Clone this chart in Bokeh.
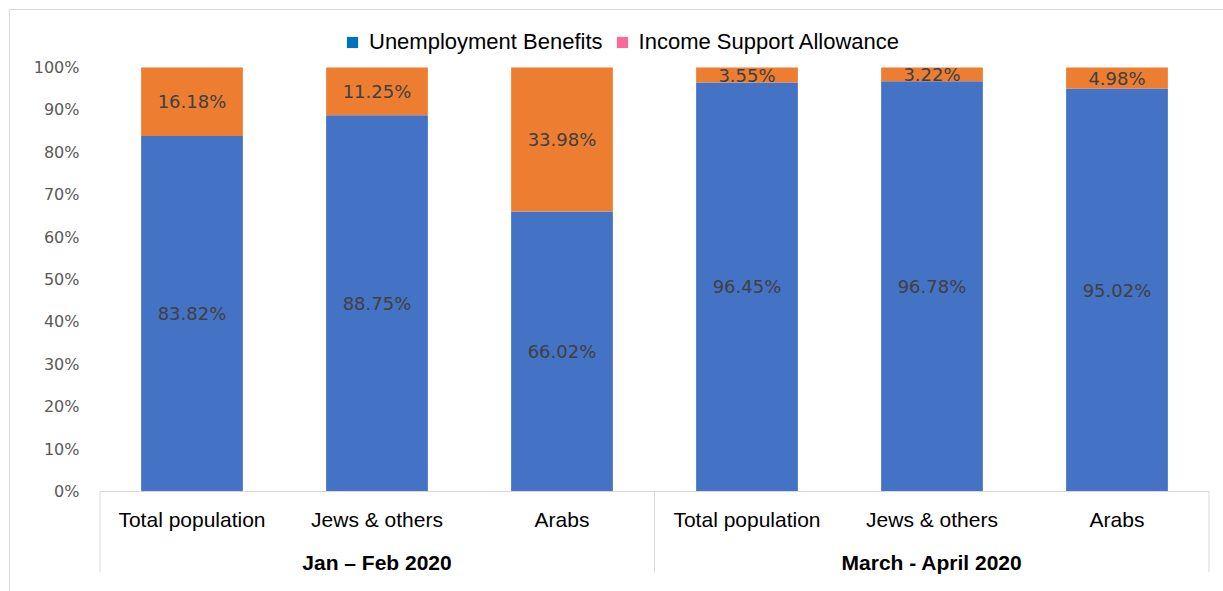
from bokeh.plotting import figure
from bokeh.models import (FactorRange, ColumnDataSource, LabelSet, Legend, LegendItem,
                          FixedTicker, NumeralTickFormatter)
from bokeh.core.properties import value
from bokeh.embed import file_html
from bokeh.resources import INLINE

periods = ["Jan \u2013 Feb 2020", "March - April 2020"]
groups = ["Total population", "Jews & others", "Arabs"]
unemployment = [83.82, 88.75, 66.02, 96.45, 96.78, 95.02]
income_support = [16.18, 11.25, 33.98, 3.55, 3.22, 4.98]
y_ticks = [0, 10, 20, 30, 40, 50, 60, 70, 80, 90, 100]

factors = [(per, g) for per in periods for g in groups]
ub = [v / 100 for v in unemployment]
isa = [v / 100 for v in income_support]

src = ColumnDataSource(dict(x=factors, ub=ub, isa=isa))

# frame: page x 99..1209, y 28..585 (0% at 491, 100% at 67); the category
# axis is drawn inside the frame, below the 0% line
Y0, Y1 = -0.222, 1.092
BOX_BOTTOM = -0.191
p = figure(x_range=FactorRange(*factors, factor_padding=0, group_padding=0, range_padding=0),
           y_range=(Y0, Y1), width=1213, height=581, output_backend="svg",
           toolbar_location=None, min_border_left=89, min_border_right=14,
           min_border_top=18, min_border_bottom=6)
p.margin = (10, 0, 0, 10)
p.styles = {"outline": "1px solid #D9D9D9"}

p.vbar_stack(["ub", "isa"], x="x", width=0.55, source=src,
             color=["#4472C4", "#ED7D31"], line_color=None)

# sides of the category-axis box (at the period boundaries)
n_per = len(groups)
edges = [0, len(factors)]
mids = [n_per * k for k in range(1, len(periods))]
p.segment(x0=edges, x1=edges, y0=[0] * len(edges), y1=[BOX_BOTTOM] * len(edges),
          line_color="#D9D9D9", line_width=2)
p.segment(x0=mids, x1=mids, y0=[0] * len(mids), y1=[BOX_BOTTOM] * len(mids),
          line_color="#D9D9D9", line_width=1)

# data labels
lab_x = factors + factors
lab_y = [u / 2 for u in ub] + [u + i / 2 for u, i in zip(ub, isa)]
lab_t = ["%.2f%%" % v for v in unemployment] + ["%.2f%%" % v for v in income_support]
lsrc = ColumnDataSource(dict(x=lab_x, y=lab_y, t=lab_t))
p.add_layout(LabelSet(x="x", y="y", text="t", source=lsrc, text_align="center",
                      text_baseline="middle", text_font=value("DejaVu Sans"),
                      text_font_size="18px", text_color="#404040"))

# legend proxies (zero-height bars; colours as in the reference legend)
r1 = p.vbar(x="x", top=0, width=0.55, source=src, fill_color="#0070C0", line_color=None)
r2 = p.vbar(x="x", top=0, width=0.55, source=src, fill_color="#FF6699", line_color=None)
legend = Legend(items=[LegendItem(label="Unemployment Benefits", renderers=[r1]),
                       LegendItem(label="Income Support Allowance", renderers=[r2])],
                orientation="horizontal", location=(246, 530),
                glyph_width=14, glyph_height=14, label_standoff=10, spacing=12,
                padding=0, margin=0, border_line_color=None, background_fill_alpha=0,
                label_text_font="Liberation Sans", label_text_font_size="22px",
                label_text_color="#000000")
p.add_layout(legend, "center")

# axes
p.xgrid.visible = False
p.ygrid.visible = False
p.outline_line_color = None

p.yaxis.ticker = FixedTicker(ticks=[t / 100 for t in y_ticks])
p.yaxis.formatter = NumeralTickFormatter(format="0%")
p.yaxis.axis_line_color = None
p.yaxis.major_tick_line_color = None
p.yaxis.minor_tick_line_color = None
p.yaxis.major_label_text_font = "DejaVu Sans"
p.yaxis.major_label_text_font_size = "16px"
p.yaxis.major_label_text_color = "#595959"
p.yaxis.major_label_standoff = 14

xa = p.xaxis[0]
xa.fixed_location = 0
xa.axis_line_color = "#D9D9D9"
xa.major_tick_line_color = None
xa.major_tick_in = 0
xa.major_tick_out = 0
xa.major_label_text_font = "Liberation Sans"
xa.major_label_text_font_size = "21px"
xa.major_label_text_color = "#000000"
xa.major_label_standoff = 17
xa.group_text_font = "Liberation Sans"
xa.group_text_font_size = "21px"
xa.group_text_font_style = "bold"
xa.group_text_color = "#000000"
xa.separator_line_color = None

open("out.html", "w").write(file_html(p, INLINE))
